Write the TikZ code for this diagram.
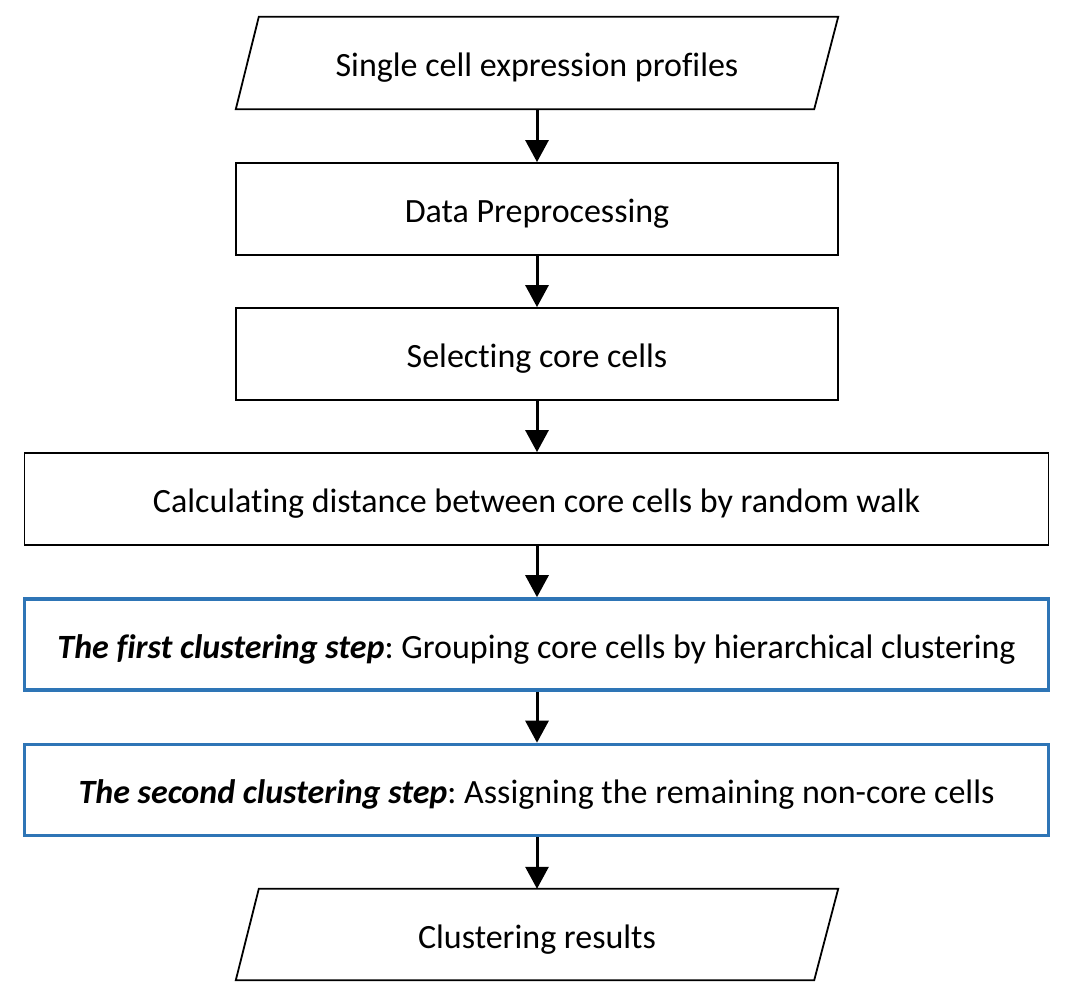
\documentclass[tikz,border=0pt]{standalone}
\usepackage{fontspec}
\setmainfont[Ligatures=NoCommon]{Carlito}
\usetikzlibrary{arrows.meta}
\definecolor{boxblue}{HTML}{2E75B6}
\begin{document}
\frenchspacing
\begin{tikzpicture}[x=1pt,y=-1pt,
  base/.style={rectangle, inner sep=0pt, align=center, text height=34pt, text depth=7pt,
    font=\fontsize{34}{40}\selectfont},
  plainbox/.style={base, draw=black, line width=1.8pt},
  bluebox/.style={base, draw=boxblue, line width=3.6pt},
  iobox/.style={base, draw=none},
  flow/.style={line width=3pt, -{Triangle[width=23pt,length=22pt]}},
  ioline/.style={draw=black, line width=1.8pt, line join=miter}
]
\useasboundingbox[fill=white] (0,0) rectangle (1089,1003);

\node[iobox, minimum width=602pt, minimum height=92pt] (p1) at (537,63)
  {Single cell expression profiles};
\draw[ioline] (p1.south west) -- ([xshift=-24pt]p1.south east) -- (p1.north east)
  -- ([xshift=23pt]p1.north west) -- cycle;

\node[plainbox, minimum width=602pt, minimum height=92pt] (b1) at (537,209)
  {Data Preprocessing};
\node[plainbox, minimum width=602pt, minimum height=92pt] (b2) at (537,354)
  {Selecting core cells};
\node[plainbox, minimum width=1024pt, minimum height=92pt] (b3) at (536.5,499)
  {Calculating distance between core cells by random walk};
\node[bluebox, minimum width=1024pt, minimum height=91pt] (b4) at (536.5,644.5)
  {\textbf{\textit{The first clustering step}}: Grouping core cells by hierarchical clustering};
\node[bluebox, minimum width=1024pt, minimum height=91pt] (b5) at (536.5,790)
  {\textbf{\textit{The second clustering step}}: Assigning the remaining non-core cells};

\node[iobox, minimum width=602pt, minimum height=91pt] (p2) at (537,934.5)
  {Clustering results};
\draw[ioline] (p2.south west) -- ([xshift=-24pt]p2.south east) -- (p2.north east)
  -- ([xshift=23pt]p2.north west) -- cycle;

\draw[flow] (p1.south) -- (b1.north);
\draw[flow] (b1.south) -- (b2.north);
\draw[flow] (b2.south) -- (b3.north -| b2.south);
\draw[flow] (b3.south -| b2.south) -- (b4.north -| b2.south);
\draw[flow] (b4.south -| b2.south) -- (b5.north -| b2.south);
\draw[flow] (b5.south -| b2.south) -- (p2.north);
\end{tikzpicture}
\end{document}
